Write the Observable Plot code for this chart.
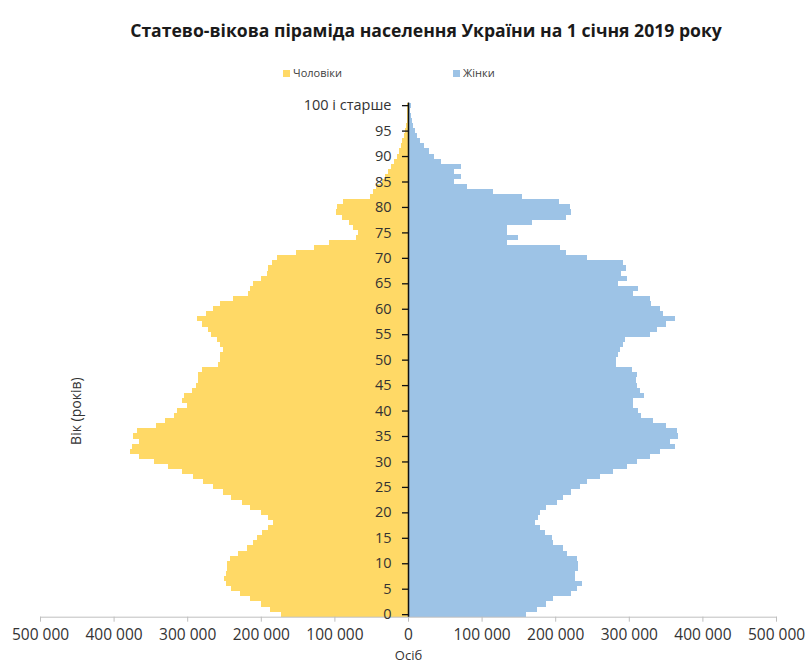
<!DOCTYPE html>
<html>
<head>
<meta charset="utf-8">
<script src="https://cdn.jsdelivr.net/npm/d3@7"></script>
<script src="https://cdn.jsdelivr.net/npm/@observablehq/plot@0.6"></script>
<style>
  body { margin: 0; background: #fff; font-family: "Open Sans", sans-serif; }
  #wrap { position: relative; width: 806px; height: 664px; overflow: hidden; }
  #title { position: absolute; left: 46px; width: 760px; top: 17px; text-align: center;
           font-size: 17.6px; font-weight: 700; color: #1a1a1a; line-height: 26px; }
  .lg { position: absolute; top: 64px; font-size: 11px; color: #404040; line-height: 18px; }
  .sw { display: inline-block; width: 7px; height: 7px; margin-right: 3px; vertical-align: 0px; }
  #chart { position: absolute; left: 0; top: 90px; }
</style>
</head>
<body>
<div id="wrap">
  <div id="title">Статево-вікова піраміда населення України на 1 січня 2019 року</div>
  <div class="lg" style="left:283px"><span class="sw" style="background:#FFD966"></span>Чоловіки</div>
  <div class="lg" style="left:453px"><span class="sw" style="background:#9DC3E6"></span>Жінки</div>
  <div id="chart"></div>
</div>
<script>
// Age categories 0 .. 100 ("100 і старше")
const ages = Array.from({length: 101}, (_, i) => i);

// Population, thousands of persons, index = age
const men = [
  172,187,200,214,228,240,247,250,247,246,   // 0-9
  246,242,231,219,210,205,198,190,183,190,   // 10-19
  200,214,226,240,252,265,278,292,307,326,   // 20-29
  345,365,378,375,365,373,368,342,330,318,   // 30-39
  314,300,307,305,294,288,285,285,280,258,   // 40-49
  255,255,252,255,260,268,272,280,287,275,   // 50-59
  265,255,238,218,215,210,200,192,190,185,   // 60-69
  178,152,128,108,70,68,75,80,90,98,         // 70-79
  97,88,52,48,44,36,31,27,23,19,             // 80-89
  15,12,10,8,6,4,3,2,1,1,                    // 90-99
  1                                          // 100+
];
const women = [
  161,175,188,197,222,229,236,227,227,231,   // 0-9
  231,229,216,211,197,195,186,179,172,177,   // 10-19
  180,188,202,211,222,234,243,261,279,297,   // 20-29
  311,329,342,363,356,367,365,351,333,317,   // 30-39
  312,306,306,320,315,311,310,311,304,283,   // 40-49
  283,286,288,292,295,329,338,351,363,347,   // 50-59
  342,330,329,306,313,286,297,290,296,292,   // 60-69
  243,215,206,134,150,134,134,168,215,222,   // 70-79
  220,205,155,115,80,63,72,62,72,45,         // 80-89
  35,28,22,16,12,9,7,5,4,3,                  // 90-99
  4                                          // 100+
];

const sexes = ["Чоловіки", "Жінки"];
const colors = ["#FFD966", "#9DC3E6"];
const xTicks = [-500000,-400000,-300000,-200000,-100000,0,100000,200000,300000,400000,500000];
const yTicks = [0,5,10,15,20,25,30,35,40,45,50,55,60,65,70,75,80,85,90,95,100];

const data = ages.flatMap(a => [
  {age: a, sex: sexes[0], value: -men[a] * 1000},
  {age: a, sex: sexes[1], value: women[a] * 1000}
]);

const fmt = d => d3.format(",")(Math.abs(d)).replace(/,/g, "\u00a0");

const chart = Plot.plot({
  width: 806,
  height: 574,
  marginLeft: 40,
  marginRight: 30,
  marginTop: 12.6,
  marginBottom: 47.3,
  style: {fontFamily: "Open Sans", fontSize: "14px", color: "#333", background: "#fff"},
  x: {domain: [-500000, 500000], axis: null},
  y: {type: "band", domain: ages.slice().reverse(), padding: 0, round: false, axis: null},
  color: {domain: sexes, range: colors},
  marks: [
    Plot.barX(data, {x: "value", y: "age", fill: "sex", shapeRendering: "crispEdges"}),
    Plot.frame({anchor: "bottom", stroke: "#bfbfbf"}),
    Plot.axisX({ticks: xTicks, tickFormat: fmt, tickSize: 5, tickPadding: 7,
                stroke: "#bfbfbf", fill: "#333", fontSize: 15.5, label: null}),
    Plot.ruleX([0], {stroke: "#111", strokeWidth: 1.5}),
    Plot.ruleY(yTicks, {y: d => d, x1: -8200, x2: 0, stroke: "#111", strokeWidth: 1.3}),
    Plot.text(yTicks, {y: d => d, x: 0, text: d => d === 100 ? "100 і старше" : String(d),
                       textAnchor: "end", dx: -17, fontSize: 14.5, fill: "#333"}),
    Plot.text(["Осіб"], {frameAnchor: "bottom", lineAnchor: "middle", dy: 39, fontSize: 13, fill: "#333"}),
    Plot.text(["Вік (років)"], {frameAnchor: "left", textAnchor: "middle", lineAnchor: "middle",
                                rotate: -90, dx: 36, dy: 51, fontSize: 14, fill: "#333"})
  ]
});
document.getElementById("chart").appendChild(chart);
</script>
</body>
</html>
